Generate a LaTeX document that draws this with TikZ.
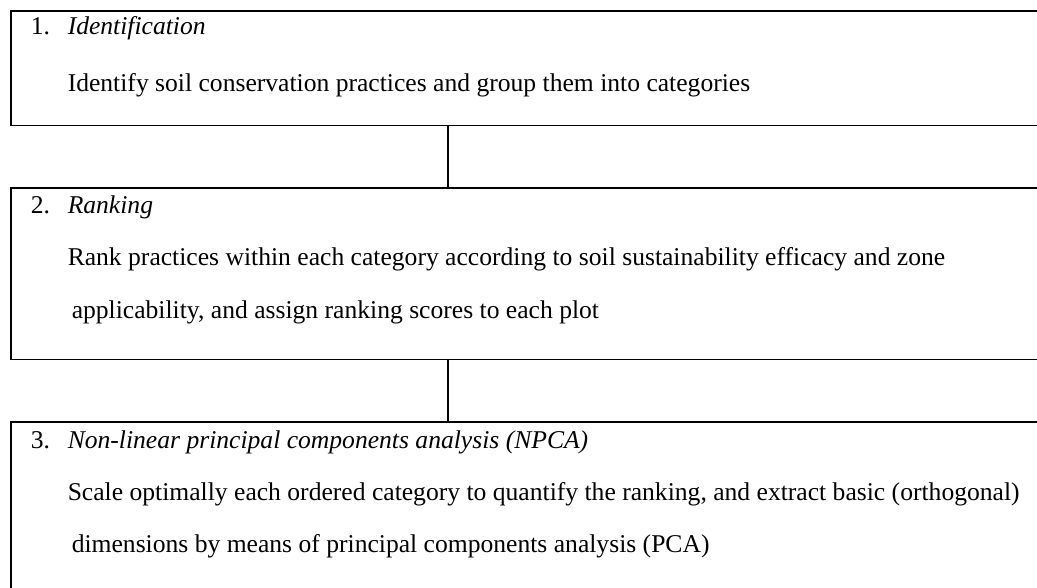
\documentclass[tikz,border=0pt]{standalone}
\usepackage{fontspec}
\setmainfont{Liberation Serif}
\begin{document}
\begin{tikzpicture}[x=1pt,y=-1pt,line width=1.5pt,
	stage/.style={minimum width=1040pt,anchor=north west,inner sep=0pt},
	txt/.style={anchor=base west,inner sep=0pt,font=\fontsize{25.6}{30}\selectfont}]
		\useasboundingbox (0,0) rectangle (1037,587);
		% Riquadri
		\node [stage, minimum height=113pt] (ident) at (11,11) {};
		\node [stage, minimum height=170pt] (rank) at (11,188) {};
		\node [stage, minimum height=200pt] (npca) at (11,422) {};
		\foreach \b in {ident,rank,npca}
			\draw (\b.north east) -- (\b.north west) -- (\b.south west) -- (\b.south east);
		% Collegamenti
		\coordinate (axis) at (448,0);
		\draw (ident.south -| axis) -- (rank.north -| axis);
		\draw (rank.south -| axis) -- (npca.north -| axis);
		% Testi
		\node [txt] (n1) at (30,34) {1.};
		\node [txt] (h1) at (67,34) {\textit{Identification}};
		\node [txt] (t1) at (67,91) {Identify soil conservation practices and group them into categories};
		\node [txt] (n2) at (30,213) {2.};
		\node [txt] (h2) at (67,213) {\textit{Ranking}};
		\node [txt] (t2a) at (67,265) {Rank practices within each category according to soil sustainability efficacy and zone};
		\node [txt] (t2b) at (71,318) {applicability, and assign ranking scores to each plot};
		\node [txt] (n3) at (30,448) {3.};
		\node [txt] (h3) at (67,448) {\textit{Non-linear principal components analysis (NPCA)}};
		\node [txt] (t3a) at (67,500) {Scale optimally each ordered category to quantify the ranking, and extract basic (orthogonal)};
		\node [txt] (t3b) at (71,552) {dimensions by means of principal components analysis (PCA)};
	\end{tikzpicture}
\end{document}
